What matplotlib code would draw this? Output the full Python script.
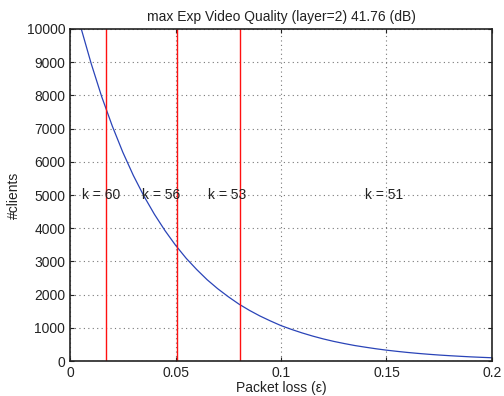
import matplotlib
matplotlib.use("Agg")
import matplotlib.pyplot as plt

plt.rcParams['font.family'] = ['Liberation Sans', 'DejaVu Sans']
plt.rcParams['font.size'] = 10

# data
loss = [0.000, 0.005, 0.010, 0.015, 0.020, 0.025, 0.030, 0.035, 0.040, 0.045,
        0.050, 0.055, 0.060, 0.065, 0.070, 0.075, 0.080, 0.085, 0.090, 0.095,
        0.100, 0.105, 0.110, 0.115, 0.120, 0.125, 0.130, 0.135, 0.140, 0.145,
        0.150, 0.155, 0.160, 0.165, 0.170, 0.175, 0.180, 0.185, 0.190, 0.195,
        0.200]
clients = [11370, 10070, 8960, 7960, 7080, 6290, 5590, 4970, 4420, 3930,
           3490, 3100, 2760, 2450, 2180, 1940, 1720, 1530, 1360, 1210,
           1070, 955, 850, 755, 670, 595, 530, 470, 420, 373,
           331, 295, 262, 233, 207, 184, 164, 146, 129, 115,
           102]
boundaries = [0.017, 0.0505, 0.0805]
k_labels = ["k = 60", "k = 56", "k = 53", "k = 51"]
k_label_x = [0.0055, 0.034, 0.0655, 0.140]

fig = plt.figure(figsize=(5.04, 3.96), dpi=100)
ax = fig.add_axes([0.139, 0.088, 0.837, 0.839])

ax.plot(loss, clients, color='#2a44b8', lw=0.9)
for b in boundaries:
    ax.axvline(b, color='#ff1010', lw=1.0)
for t, x in zip(k_labels, k_label_x):
    ax.text(x, 5000, t, ha='left', va='center', color='#222222')

ax.set_xlim(0, 0.2)
ax.set_ylim(0, 10000)
ax.set_xticks([0, 0.05, 0.1, 0.15, 0.2])
ax.set_xticklabels(['0', '0.05', '0.1', '0.15', '0.2'])
ax.set_yticks(range(0, 10001, 1000))
ax.grid(True, linestyle=(0, (1, 3)), color='#777777', lw=0.8)
ax.tick_params(direction='in', top=True, right=True, length=3, colors='#222222')
for s in ax.spines.values():
    s.set_linewidth(1.2)
    s.set_color('#222222')

ax.set_xlabel('Packet loss (ε)', labelpad=1, color='#222222')
ax.set_ylabel('#clients', color='#222222')
ax.set_title('max Exp Video Quality (layer=2) 41.76 (dB)', fontsize=10, pad=6,
             color='#222222')

fig.savefig('out.png', dpi=100)
